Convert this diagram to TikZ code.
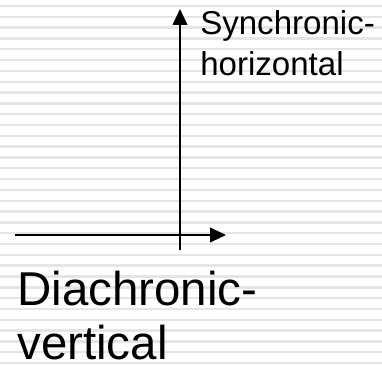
\documentclass[tikz,border=0pt]{standalone}
\usepackage{fontspec}
\setmainfont{Liberation Sans}
\usepackage{tikz}
\usetikzlibrary{arrows.meta}

\begin{document}
\begin{tikzpicture}[
  x=0.75pt, y=-0.75pt,
  stripe/.style={fill=black!10},
  lbl/.style={inner sep=0pt, anchor=base west, align=left},
  small/.style={lbl, font=\fontsize{24.8}{30.75}\selectfont},
  big/.style={lbl, font=\fontsize{35.6}{40.5}\selectfont},
  arr/.style={-{Triangle[length=12pt, width=11pt]}, line width=1.5pt, draw=black}]
\useasboundingbox (0,0) rectangle (382,366);
% striped background
\foreach \i in {0,...,33}
  \fill[stripe] (0,{6+10.82*\i-1.2}) rectangle (382,{6+10.82*\i+1.2});
% axes
\coordinate (vbot) at (180,250);
\coordinate (vtop) at (180,9);
\coordinate (hleft) at (15,235);
\coordinate (hright) at (226,235);
\draw[arr] (vbot) -- (vtop);
\draw[arr] (hleft) -- (hright);
% labels (anchored on the last line)
\node[small] (sync) at (200,76) {Synchronic-\\horizontal};
\node[big] (diac) at (17,360) {Diachronic-\\vertical};
\end{tikzpicture}
\end{document}
